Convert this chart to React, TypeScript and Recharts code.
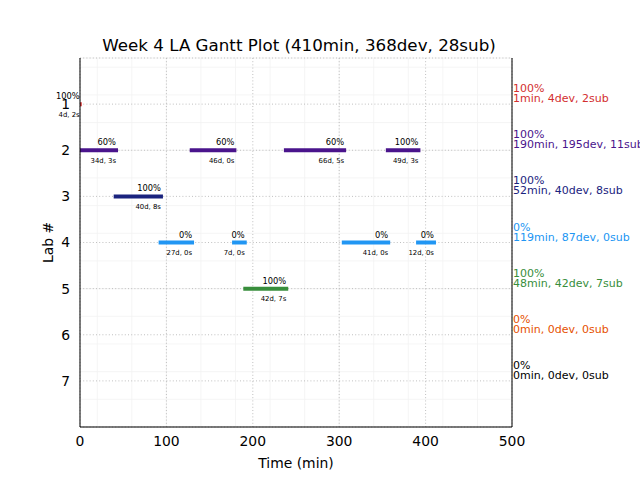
import React from 'react';
import { ComposedChart, Line, XAxis, YAxis, CartesianGrid } from 'recharts';

// ---- data ----
const labNumbers = [1, 2, 3, 4, 5, 6, 7];
const labColors = ['#d32f2f', '#4a148c', '#1a237e', '#2196f3', '#388e3c', '#e65100', '#000000'];
const labPct = ['100%', '100%', '100%', '0%', '100%', '0%', '0%'];
const labSummary = [
  '1min, 4dev, 2sub',
  '190min, 195dev, 11sub',
  '52min, 40dev, 8sub',
  '119min, 87dev, 0sub',
  '48min, 42dev, 7sub',
  '0min, 0dev, 0sub',
  '0min, 0dev, 0sub',
];

const segLab = [1, 2, 2, 2, 2, 3, 4, 4, 4, 4, 5];
const segStart = [0, 0, 127, 236, 354, 39, 91, 176, 303, 389, 189];
const segEnd = [2, 44, 181, 308, 394, 96, 132, 193, 359, 412, 241];
const segPct = ['100%', '60%', '60%', '60%', '100%', '100%', '0%', '0%', '0%', '0%', '100%'];
const segDetail = ['4d, 2s', '34d, 3s', '46d, 0s', '66d, 5s', '49d, 3s', '40d, 8s', '27d, 0s', '7d, 0s', '41d, 0s', '12d, 0s', '42d, 7s'];

const xTicks = [0, 100, 200, 300, 400, 500];
const xMinorTicks = Array.from({ length: 26 }, (_, i) => i * 20);
const yMinorTicks = Array.from({ length: 41 }, (_, i) => Math.round(i * 0.2 * 10) / 10);

const FONT = 'DejaVu Sans, sans-serif';

const makeSegLabel = (i: number) => (p: any) => {
  if (p.index !== 1) return <g key={`l${i}-${p.index}`} />;
  const x = p.x - 2;
  const y = p.y;
  return (
    <g key={`l${i}-${p.index}`} fontFamily={FONT}>
      <text x={x} y={y - 5} textAnchor="end" fontSize={8.3} fill="#000">{segPct[i]}</text>
      <text x={x} y={y + 12.5} textAnchor="end" fontSize={6.9} fill="#000">{segDetail[i]}</text>
    </g>
  );
};

const RightTick = (p: any) => {
  const idx = labNumbers.indexOf(p.payload.value);
  if (idx < 0) return <g />;
  const x = p.x + 1;
  const y = p.y;
  return (
    <g fontFamily={FONT} fontSize={11} fill={labColors[idx]}>
      <text x={x} y={y - 12} textAnchor="start">{labPct[idx]}</text>
      <text x={x} y={y - 2} textAnchor="start">{labSummary[idx]}</text>
    </g>
  );
};

const XLabel = (p: any) => {
  const vb = p.viewBox || { x: 80, y: 427, width: 432, height: 53 };
  return (
    <text x={vb.x + vb.width / 2} y={vb.y + 41} textAnchor="middle" fontSize={13.9} fontFamily={FONT} fill="#000">
      Time (min)
    </text>
  );
};

const YLabel = (p: any) => {
  const vb = p.viewBox || { x: 0, y: 58, width: 80, height: 369 };
  const cx = vb.x + 48;
  const cy = vb.y + vb.height / 2;
  return (
    <text x={cx} y={cy} textAnchor="middle" dominantBaseline="central" transform={`rotate(-90, ${cx}, ${cy})`} fontSize={13.9} fontFamily={FONT} fill="#000">
      Lab #
    </text>
  );
};

export default function App() {
  return (
    <div style={{ position: 'absolute', left: 0, top: 0, width: 640, height: 480, background: '#fff', fontFamily: FONT }}>
      <div style={{ position: 'absolute', left: 0, top: 35, width: 598, textAlign: 'center', fontSize: 16.7, lineHeight: '20px', color: '#000', fontFamily: FONT }}>
        Week 4 LA Gantt Plot (410min, 368dev, 28sub)
      </div>
      <ComposedChart width={640} height={480} margin={{ top: 58, right: 0, bottom: 0, left: 0 }}>
        <XAxis xAxisId="minor" type="number" dataKey="t" domain={[0, 500]} ticks={xMinorTicks} hide allowDataOverflow />
        <YAxis yAxisId="minor" type="number" domain={[0, 8]} ticks={yMinorTicks} reversed hide allowDataOverflow />
        <CartesianGrid xAxisId="minor" yAxisId="minor" stroke="#f2f2f2" strokeWidth={0.8} />
        <CartesianGrid stroke="#b0b0b0" strokeWidth={0.8} strokeDasharray="1 2.2" />
        {segLab.map((lab, i) => (
          <Line
            key={`seg${i}`}
            data={[{ t: segStart[i], lab }, { t: segEnd[i], lab }]}
            dataKey="lab"
            stroke={labColors[lab - 1]}
            strokeWidth={4}
            strokeLinecap="butt"
            dot={false}
            activeDot={false}
            isAnimationActive={false}
            label={makeSegLabel(i)}
          />
        ))}
        <XAxis
          type="number"
          dataKey="t"
          domain={[0, 500]}
          ticks={xTicks}
          height={53}
          allowDataOverflow
          stroke="#000"
          tickLine={false}
          tickSize={5}
          tickMargin={4}
          tick={{ fill: '#000', fontSize: 13.9, fontFamily: FONT }}
          label={<XLabel />}
        />
        <XAxis xAxisId="top" orientation="top" type="number" domain={[0, 500]} height={0} tick={false} tickLine={false} stroke="#000" allowDataOverflow />
        <YAxis
          type="number"
          domain={[0, 8]}
          ticks={labNumbers}
          reversed
          width={80}
          allowDataOverflow
          stroke="#000"
          tickLine={false}
          tickSize={5}
          tickMargin={5}
          tick={{ fill: '#000', fontSize: 13.9, fontFamily: FONT }}
          label={<YLabel />}
        />
        <YAxis
          yAxisId="right"
          orientation="right"
          type="number"
          domain={[0, 8]}
          ticks={labNumbers}
          reversed
          width={128}
          allowDataOverflow
          stroke="#000"
          tickLine={false}
          tickSize={0}
          tickMargin={0}
          tick={<RightTick />}
        />
      </ComposedChart>
    </div>
  );
}
